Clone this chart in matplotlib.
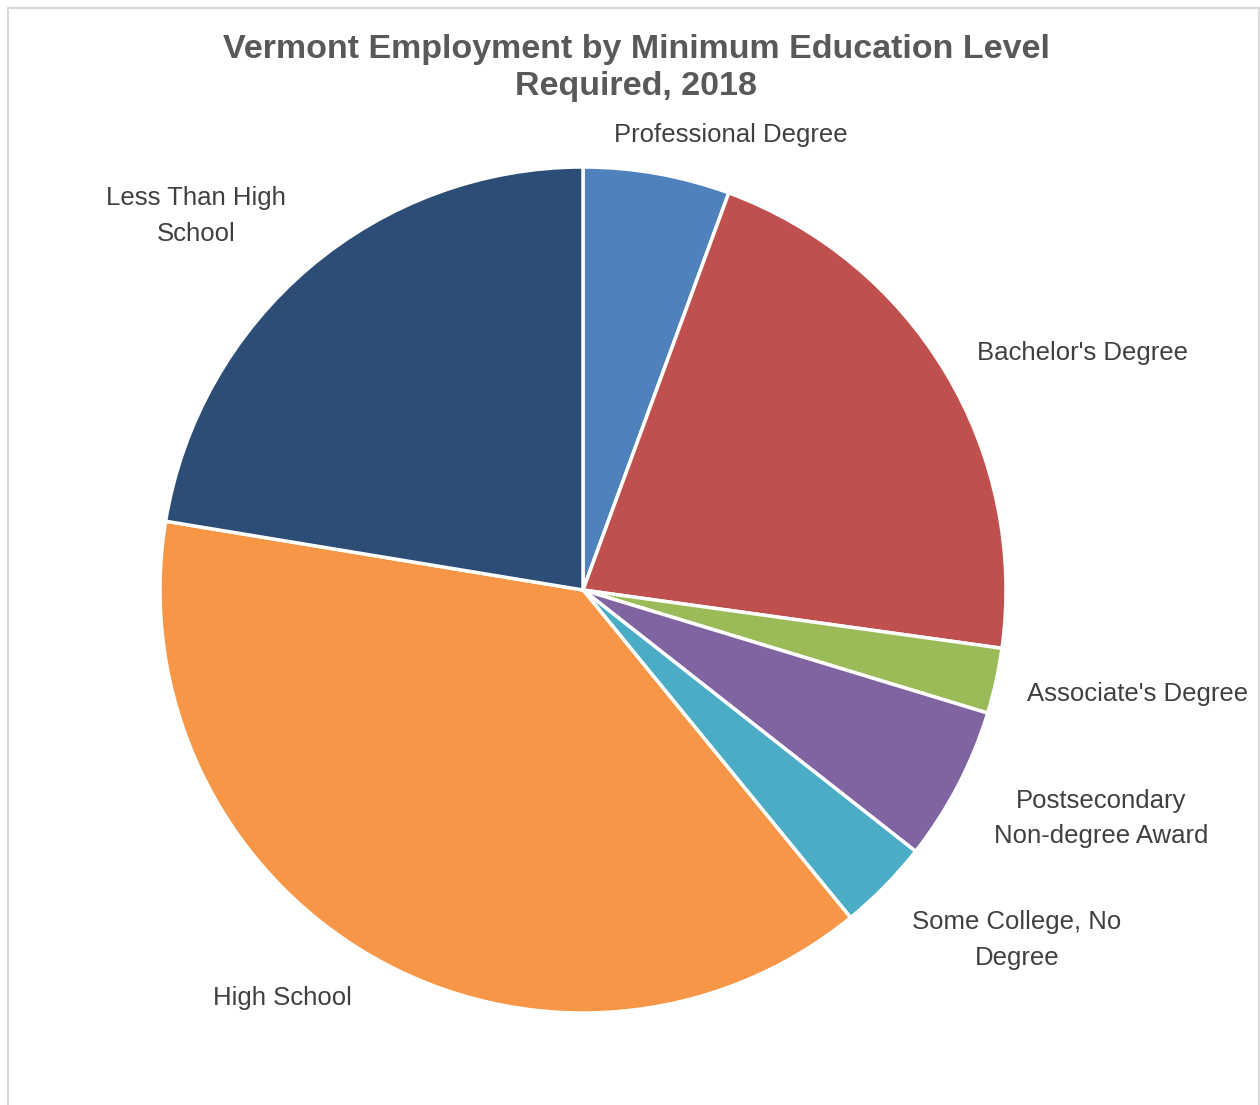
import matplotlib.pyplot as plt
from matplotlib.patches import Rectangle

categories = [
    "Professional Degree",
    "Bachelor's Degree",
    "Associate's Degree",
    "Postsecondary\nNon-degree Award",
    "Some College, No\nDegree",
    "High School",
    "Less Than High\nSchool",
]
shares = [5.6, 21.6, 2.5, 5.9, 3.5, 38.5, 22.4]
colors = ["#4F81BD", "#C0504D", "#9BBB59", "#8064A2", "#4BACC6", "#F79646", "#2C4D75"]

# label positions in units of pie radius (layout only)
label_pos = [
    (0.35, 1.075),
    (1.18, 0.56),
    (1.31, -0.246),
    (1.225, -0.54),
    (1.026, -0.827),
    (-0.71, -0.965),
    (-0.915, 0.884),
]

W, H = 1260, 1105
cx, cy, R = 583, 590, 423

fig = plt.figure(figsize=(W / 100, H / 100), dpi=100)
ax = fig.add_axes([0, 0, 1, 1])
ax.pie(
    shares,
    colors=colors,
    startangle=90,
    counterclock=False,
    wedgeprops=dict(edgecolor="white", linewidth=2.5),
)
ax.set_aspect("auto")
ax.set_xlim(-cx / R, (W - cx) / R)
ax.set_ylim(-(H - cy) / R, cy / R)
ax.axis("off")

for name, (x, y) in zip(categories, label_pos):
    ax.text(x, y, name, ha="center", va="center", fontsize=18.5,
            family="Liberation Sans", color="#404040", linespacing=1.6)

fig.text(636 / W, 1 - 68 / H, "Vermont Employment by Minimum Education Level\nRequired, 2018",
         ha="center", va="center", fontsize=24.5, fontweight="bold",
         family="Liberation Sans", color="#595959", linespacing=1.28)

fig.patches.append(Rectangle((8 / W, -0.01), (W - 9) / W, 1 - 8 / H + 0.01,
                             transform=fig.transFigure, fill=False,
                             edgecolor="#D9D9D9", linewidth=1.5))

fig.savefig("out.png", dpi=100)
